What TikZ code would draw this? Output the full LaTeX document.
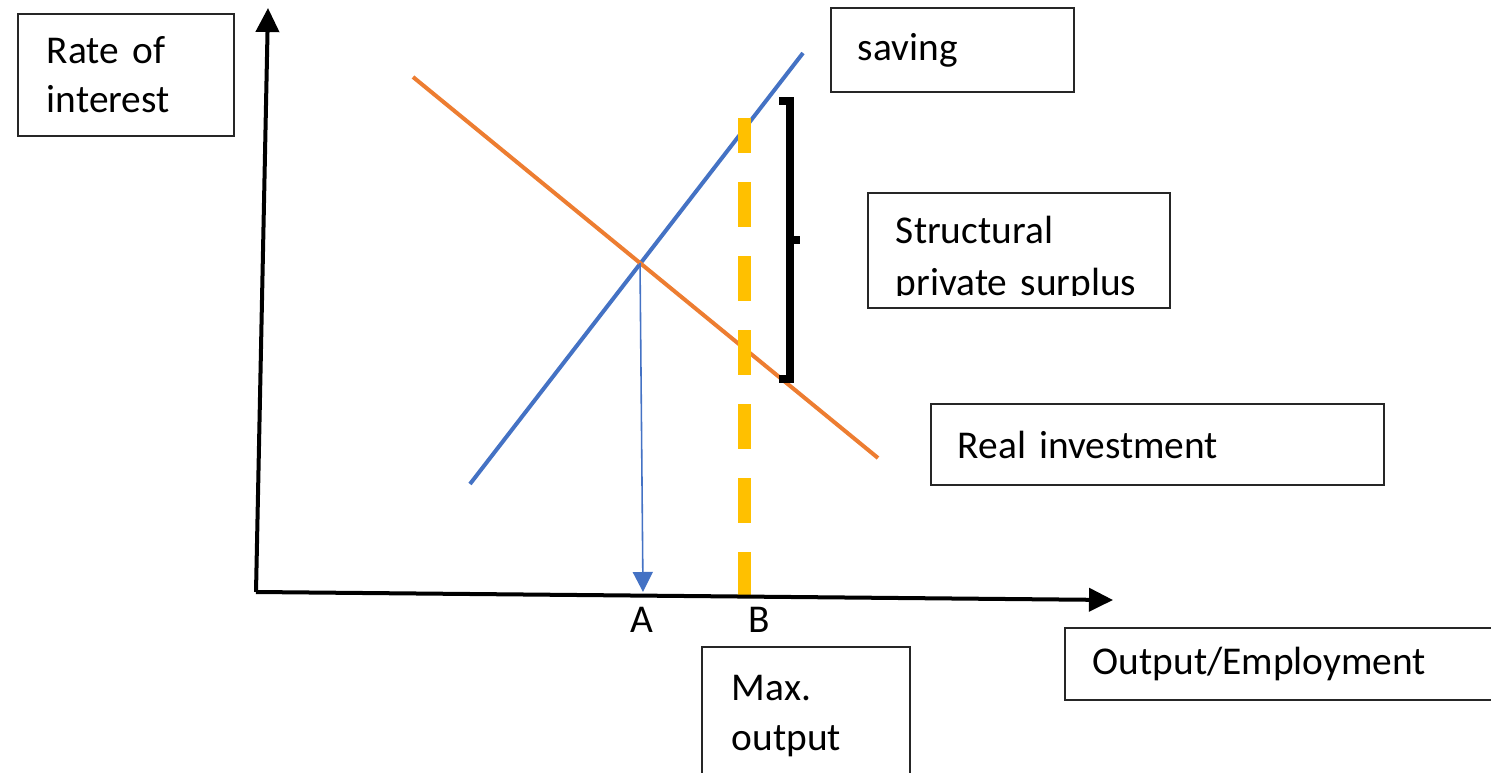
\documentclass[tikz,border=0pt]{standalone}
\usepackage{fontspec}
\setmainfont{Carlito}
\usetikzlibrary{arrows.meta}
\definecolor{savBlue}{RGB}{68,114,196}
\definecolor{invOrange}{RGB}{237,125,49}
\definecolor{maxGold}{RGB}{255,192,0}
\tikzset{
  box/.style={draw=black!85, line width=0.55pt, align=left, inner xsep=0pt, inner ysep=0pt,
              font=\fontsize{11.2}{14}\selectfont},
  axis/.style={-{Triangle[length=0.24cm, width=0.23cm]}, line width=0.04cm},
  curve/.style={line width=0.04cm},
  tick/.style={font=\fontsize{11.2}{14}\selectfont, inner sep=0pt}
}
\begin{document}
\begin{tikzpicture}[x=0.01cm, y=-0.01cm]
\clip (0,0) rectangle (1491,773);
% label boxes
\node[box, minimum width=2.16cm, minimum height=1.22cm, text width=1.58cm] (rate) at (126,75) {Rate of\\interest};
\node[box, minimum width=2.43cm, minimum height=0.84cm, text width=1.89cm] (saving) at (952.5,50) {saving};
\node[box, minimum width=3.02cm, minimum height=1.15cm] (surplus) at (1019,250.5) {};
\begin{scope}
  \clip (868,193) rectangle (1170,295);
  \node[box, draw=none, anchor=base west, text width=2.6cm, font=\fontsize{11.2}{14.6}\selectfont] (surplustxt) at (895,244) {Structural\\private surplus};
\end{scope}
\node[box, minimum width=4.53cm, minimum height=0.81cm, text width=3.99cm] (invest) at (1157.5,444.5) {Real investment};
\node[box, minimum width=2.08cm, minimum height=1.38cm, text width=1.48cm] (maxout) at (806,716) {Max.\\output};
\node[box, minimum width=4.55cm, minimum height=0.72cm, text width=3.99cm] (outemp) at (1292.5,664) {Output/Employment};
% curves
\coordinate (s0) at (470,484);
\coordinate (s1) at (803,53);
\coordinate (i0) at (413,77);
\coordinate (i1) at (878,458);
\draw[curve, savBlue] (s0) -- (s1);
\draw[curve, invOrange] (i0) -- (i1);
\coordinate (eq) at (640,263);
\coordinate (A) at (643,592);
\draw[savBlue, line width=0.45pt, -{Triangle[length=0.2cm, width=0.2cm]}] (eq) -- (A);
% max output line
\coordinate (b0) at (744,597);
\coordinate (b1) at (744,118);
\draw[maxGold, line width=0.13cm, dash pattern=on 0.45cm off 0.29cm] (b0) -- (b1);
% bracket
\draw[line width=0.08cm] (779,101) -- (790,101) -- (790,379) -- (779,379);
\draw[line width=0.08cm] (790,240) -- (800,240);
% axes
\coordinate (o) at (256,592);
\coordinate (ytip) at (268,8);
\coordinate (xtip) at (1113,600);
\draw[axis] (o) -- (ytip);
\draw[axis] (o) -- (xtip);
\node[tick] (labA) at (642,620) {A};
\node[tick] (labB) at (759,620) {B};
\end{tikzpicture}
\end{document}
